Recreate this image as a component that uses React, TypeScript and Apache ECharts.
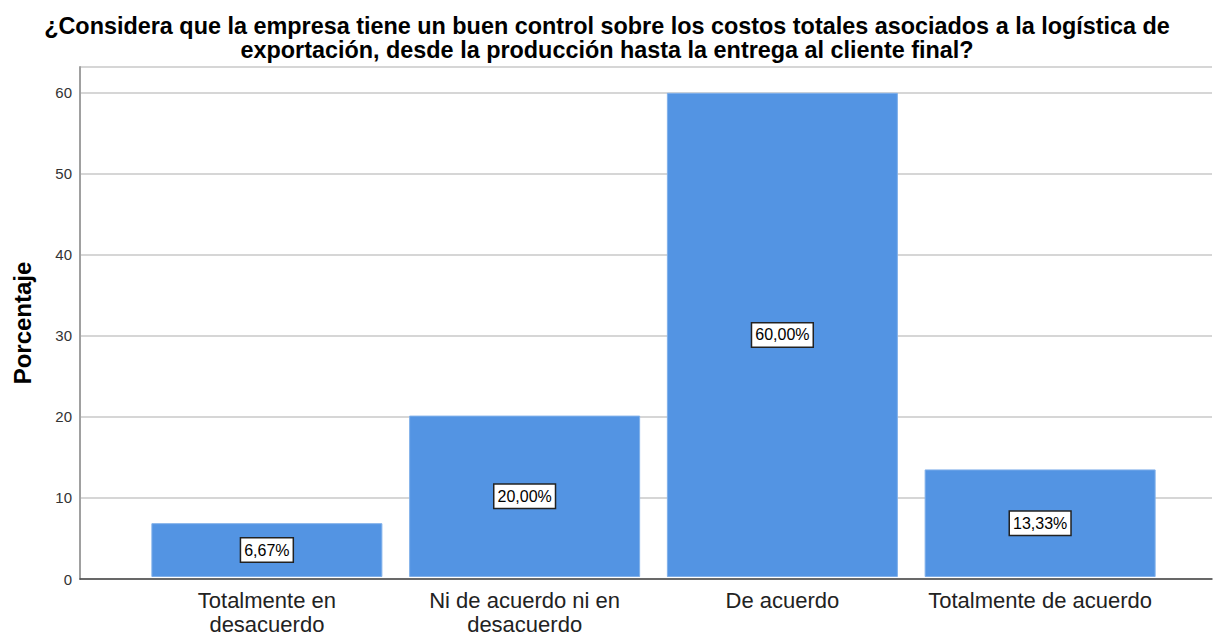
import React, { useEffect, useRef } from "react";
import * as echarts from "echarts";

const titleLines = [
  "¿Considera que la empresa tiene un buen control sobre los costos totales asociados a la logística de",
  "exportación, desde la producción hasta la entrega al cliente final?",
];
const categories = [
  "Totalmente en\ndesacuerdo",
  "Ni de acuerdo ni en\ndesacuerdo",
  "De acuerdo",
  "Totalmente de acuerdo",
];
const values = [6.67, 20.0, 60.0, 13.33];
const yAxisName = "Porcentaje";
const yMax = 63.2;
const yInterval = 10;

const FONT = "'Liberation Sans', Arial, sans-serif";

export default function App() {
  const ref = useRef<HTMLDivElement>(null);
  useEffect(() => {
    if (!ref.current) return;
    const chart = echarts.init(ref.current, null, { renderer: "svg" });
    chart.setOption({
      animation: false,
      backgroundColor: "#ffffff",
      title: {
        text: titleLines.join("\n"),
        left: "center",
        top: 9,
        textStyle: {
          fontFamily: FONT,
          fontSize: 23.4,
          fontWeight: "bold",
          color: "#000",
          lineHeight: 24,
          align: "center",
        },
      },
      grid: [
        { left: 80, right: 2, top: 67, bottom: 57, containLabel: false },
        { left: 138, right: 45, top: 67, bottom: 57, containLabel: false },
      ],
      xAxis: [
        {
          type: "value",
          gridIndex: 0,
          min: 0,
          max: 1,
          axisLine: { show: true, onZero: false, lineStyle: { color: "#444", width: 1.5 } },
          axisTick: { show: false },
          axisLabel: { show: false },
          splitLine: { show: false },
        },
        {
          type: "category",
          gridIndex: 1,
          data: categories,
          axisLine: { show: false },
          axisTick: { show: false },
          axisLabel: {
            interval: 0,
            margin: 11,
            fontFamily: FONT,
            fontSize: 22,
            lineHeight: 24,
            color: "#222",
          },
        },
      ],
      yAxis: [
        {
          type: "value",
          gridIndex: 0,
          min: 0,
          max: yMax,
          interval: yInterval,
          name: yAxisName,
          nameLocation: "middle",
          nameRotate: 90,
          nameGap: 46,
          nameTextStyle: { fontFamily: FONT, fontSize: 24, fontWeight: "bold", color: "#000" },
          axisLine: { show: true, lineStyle: { color: "#a0a0a0", width: 2 } },
          axisTick: { show: false },
          axisLabel: {
            margin: 8,
            fontFamily: FONT,
            fontSize: 15,
            color: "#333",
            showMaxLabel: false,
          },
          splitLine: { show: true, lineStyle: { color: "#c8c8c8", width: 1.5 } },
        },
        {
          type: "value",
          gridIndex: 1,
          min: 0,
          max: yMax,
          interval: yInterval,
          axisLine: { show: false },
          axisTick: { show: false },
          axisLabel: { show: false },
          splitLine: { show: false },
        },
      ],
      series: [
        {
          type: "bar",
          xAxisIndex: 1,
          yAxisIndex: 1,
          data: values,
          barWidth: 231,
          itemStyle: { color: "#5394e3", borderColor: "#80b0ea", borderWidth: 1 },
          label: {
            show: true,
            position: "inside",
            formatter: (p: any) => p.value.toFixed(2).replace(".", ",") + "%",
            fontFamily: FONT,
            fontSize: 16,
            color: "#000",
            backgroundColor: "#fff",
            borderColor: "#222",
            borderWidth: 1.5,
            padding: [4, 3, 3, 3],
          },
        },
      ],
    });
    return () => chart.dispose();
  }, []);
  return (
    <div
      ref={ref}
      style={{ position: "fixed", left: 0, top: 0, width: 1214, height: 636 }}
    />
  );
}
